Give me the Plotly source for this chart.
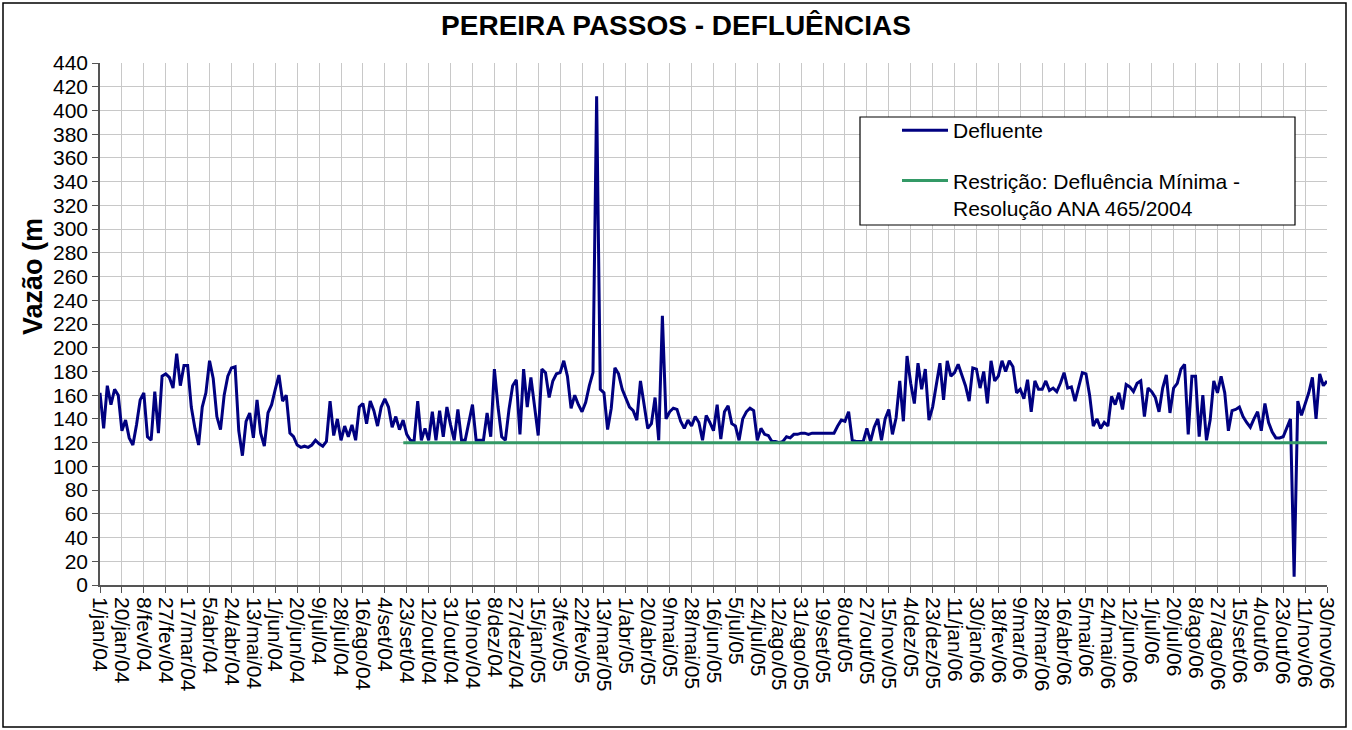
import numpy as np
import pandas as pd
import plotly.graph_objects as go

# ---------------- data ----------------
# Defluente, sampled 6 times per 19-day tick interval (1/jan/04 .. 30/nov/06)
defluente_vals = [
    162, 132, 168, 152, 165, 160,
    130, 139, 124, 118, 135, 156,
    162, 125, 122, 163, 128, 176,
    178, 175, 166, 195, 168, 185,
    185, 150, 132, 118, 150, 162,
    189, 174, 142, 131, 160, 176,
    183, 184, 130, 109, 138, 145,
    124, 156, 128, 117, 145, 152,
    165, 177, 155, 160, 128, 125,
    118, 116, 117, 116, 118, 122,
    119, 117, 121, 155, 126, 140,
    122, 134, 125, 135, 122, 150,
    153, 136, 155, 147, 134, 150,
    157, 150, 133, 142, 131, 139,
    127, 122, 121, 155, 122, 132,
    122, 146, 122, 147, 125, 150,
    135, 122, 148, 122, 122, 138,
    152, 122, 122, 122, 145, 125,
    182, 150, 125, 122, 148, 168,
    173, 127, 182, 150, 175, 150,
    126, 182, 179, 158, 172, 178,
    179, 189, 176, 149, 160, 152,
    146, 154, 168, 179, 412, 165,
    162, 131, 149, 183, 178, 165,
    158, 150, 147, 139, 172, 150,
    132, 136, 158, 122, 227, 140,
    146, 149, 148, 138, 132, 139,
    134, 142, 137, 122, 143, 137,
    130, 152, 123, 146, 151, 136,
    134, 122, 140, 146, 149, 147,
    122, 132, 127, 126, 121, 121,
    120, 121, 125, 124, 127, 127,
    128, 128, 127, 128, 128, 128,
    128, 128, 128, 128, 134, 139,
    138, 146, 122, 121, 121, 121,
    132, 121, 133, 140, 122, 140,
    148, 127, 141, 172, 138, 193,
    170, 153, 187, 165, 182, 139,
    150, 170, 187, 156, 189, 176,
    179, 186, 176, 168, 155, 183,
    182, 166, 180, 153, 189, 172,
    176, 189, 180, 189, 184, 162,
    165, 157, 173, 146, 172, 165,
    165, 172, 164, 166, 163, 170,
    179, 166, 167, 155, 167, 179,
    178, 160, 134, 140, 132, 137,
    134, 159, 152, 162, 148, 169,
    167, 163, 170, 172, 142, 166,
    163, 158, 146, 166, 177, 145,
    166, 170, 182, 186, 127, 176,
    176, 125, 160, 122, 139, 172,
    162, 176, 162, 130, 147, 148,
    150, 142, 137, 133, 140, 146,
    130, 153, 137, 129, 124, 124,
    125, 133, 140, 7, 155, 143,
    153, 162, 175, 140, 178, 168,
    172,
]
start_date = "2004-01-01"
end_date = "2006-11-30"
defluente_dates = pd.date_range(start_date, end_date, periods=len(defluente_vals))

restricao_dates = ["2004-09-20", "2006-11-30"]
restricao_vals = [120, 120]

tick_labels = [
    "1/jan/04", "20/jan/04", "8/fev/04", "27/fev/04", "17/mar/04", "5/abr/04",
    "24/abr/04", "13/mai/04", "1/jun/04", "20/jun/04", "9/jul/04", "28/jul/04",
    "16/ago/04", "4/set/04", "23/set/04", "12/out/04", "31/out/04", "19/nov/04",
    "8/dez/04", "27/dez/04", "15/jan/05", "3/fev/05", "22/fev/05", "13/mar/05",
    "1/abr/05", "20/abr/05", "9/mai/05", "28/mai/05", "16/jun/05", "5/jul/05",
    "24/jul/05", "12/ago/05", "31/ago/05", "19/set/05", "8/out/05", "27/out/05",
    "15/nov/05", "4/dez/05", "23/dez/05", "11/jan/06", "30/jan/06", "18/fev/06",
    "9/mar/06", "28/mar/06", "16/abr/06", "5/mai/06", "24/mai/06", "12/jun/06",
    "1/jul/06", "20/jul/06", "8/ago/06", "27/ago/06", "15/set/06", "4/out/06",
    "23/out/06", "11/nov/06", "30/nov/06",
]
tick_dates = pd.date_range(start_date, periods=len(tick_labels), freq="19D")

FONT = "Liberation Sans, Arial, sans-serif"

fig = go.Figure()
fig.add_trace(go.Scatter(
    x=defluente_dates, y=defluente_vals, mode="lines", name="Defluente",
    line=dict(color="#000080", width=3), legendgroup="a",
))
fig.add_trace(go.Scatter(
    x=restricao_dates, y=restricao_vals, mode="lines",
    name="Restrição: Defluência Mínima -<br>Resolução ANA 465/2004",
    line=dict(color="#339966", width=3), legendgroup="b",
))

W, H = 1352, 730
L, R, T, B = 100, 25, 63, 145
pw, ph = W - L - R, H - T - B

def px(xp):
    return (xp - L) / pw

def py(yp):
    return (H - B - yp) / ph

fig.update_layout(
    width=W, height=H,
    margin=dict(l=L, r=R, t=T, b=B),
    paper_bgcolor="white", plot_bgcolor="white",
    font=dict(family=FONT, color="black", size=20),
    title=dict(text="<b>PEREIRA PASSOS - DEFLUÊNCIAS</b>", x=0.5, xref="container",
               xanchor="center", y=1 - 25 / H, yanchor="middle",
               font=dict(family=FONT, size=28, color="black")),
    showlegend=True,
    legend=dict(x=px(897), y=py(110), xanchor="left", yanchor="top",
                bgcolor="rgba(0,0,0,0)", borderwidth=0, itemwidth=46,
                font=dict(family=FONT, size=21, color="black"),
                traceorder="grouped", tracegroupgap=20, valign="top"),
    xaxis=dict(
        type="date", range=[start_date, end_date],
        tickmode="array", tickvals=tick_dates, ticktext=tick_labels,
        tickangle=90, tickfont=dict(family=FONT, size=21, color="black"),
        showgrid=True, gridcolor="#c8c8c8", gridwidth=1,
        showline=True, linecolor="#555555", linewidth=1.5,
        ticks="outside", ticklen=6, tickcolor="#555555", zeroline=False,
    ),
    yaxis=dict(
        range=[0, 440], tickmode="linear", tick0=0, dtick=20,
        tickfont=dict(family=FONT, size=21, color="black"),
        showgrid=True, gridcolor="#c8c8c8", gridwidth=1,
        showline=True, linecolor="#555555", linewidth=1.5,
        ticks="outside", ticklen=6, tickcolor="#555555", zeroline=False,
    ),
    shapes=[
        dict(type="rect", xref="paper", yref="paper",
             x0=px(860), x1=px(1295), y0=py(225), y1=py(117),
             line=dict(color="black", width=1.2), fillcolor="white", layer="above"),
        dict(type="rect", xref="paper", yref="paper",
             x0=px(3), x1=px(1346), y0=py(727), y1=py(3),
             line=dict(color="black", width=1.5), fillcolor="rgba(0,0,0,0)"),
    ],
    annotations=[
        dict(text="<b>Vazão (m</b>", xref="paper", yref="paper",
             x=px(33), y=py(277), xanchor="center", yanchor="middle",
             textangle=-90, showarrow=False,
             font=dict(family=FONT, size=27, color="black")),
    ],
)

fig.write_html("out.html", config={"displayModeBar": False},
               post_script="document.body.style.margin='0';document.body.style.overflow='hidden';")
